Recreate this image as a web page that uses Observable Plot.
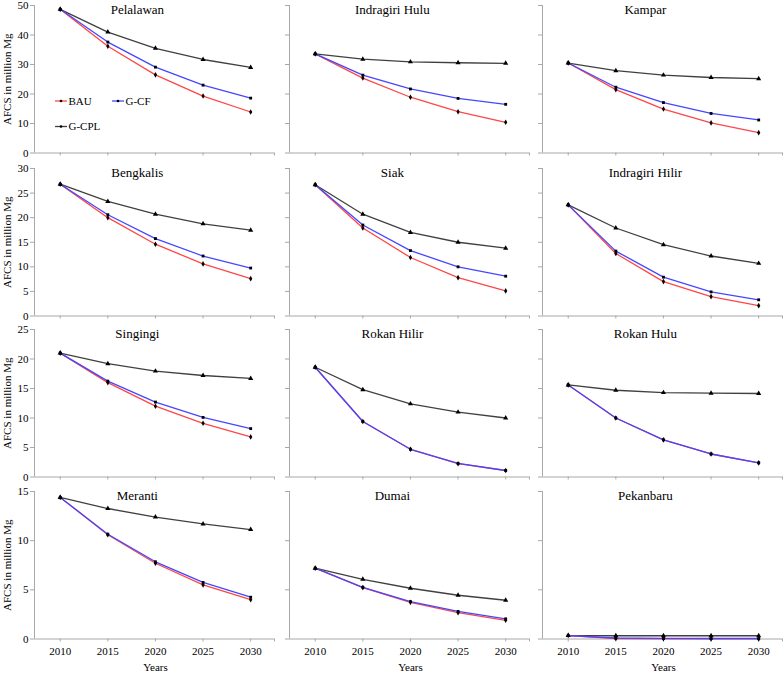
<!DOCTYPE html>
<html><head><meta charset="utf-8">
<script src="https://cdn.jsdelivr.net/npm/d3@7"></script>
<script src="https://cdn.jsdelivr.net/npm/@observablehq/plot@0.6"></script>
<style>
body{margin:0;background:#fff;}
#chart{position:relative;width:784px;height:673px;font-family:'Liberation Serif','Tinos','Times New Roman','DejaVu Serif',serif;overflow:hidden;}
#chart svg{position:absolute;overflow:visible;}
#chart svg text{font-family:'Liberation Serif','Tinos','Times New Roman','DejaVu Serif',serif !important;}
</style></head><body><div id="chart"></div>
<script>
const years = [2010, 2015, 2020, 2025, 2030];
const regions = ["Pelalawan", "Indragiri Hulu", "Kampar", "Bengkalis", "Siak", "Indragiri Hilir",
  "Singingi", "Rokan Hilir", "Rokan Hulu", "Meranti", "Dumai", "Pekanbaru"];
const scenarios = ["BAU", "G-CF", "G-CPL"];
const bauValues = [
  [48.7, 36.2, 26.5, 19.3, 13.9],
  [33.6, 25.4, 18.9, 14.0, 10.4],
  [30.5, 21.5, 14.9, 10.2, 6.9],
  [26.8, 20.0, 14.6, 10.6, 7.6],
  [26.7, 17.9, 11.9, 7.8, 5.1],
  [22.6, 12.7, 7.0, 3.95, 2.1],
  [21.0, 16.0, 12.0, 9.1, 6.8],
  [18.6, 9.4, 4.7, 2.25, 1.1],
  [15.6, 10.0, 6.3, 3.9, 2.4],
  [14.4, 10.6, 7.7, 5.5, 4.0],
  [7.2, 5.23, 3.73, 2.68, 1.9],
  [0.35, 0.05, 0.02, 0.01, 0.01]
];
const gcfValues = [
  [48.7, 37.6, 29.1, 23.0, 18.6],
  [33.6, 26.4, 21.7, 18.5, 16.5],
  [30.5, 22.3, 17.1, 13.4, 11.2],
  [26.8, 20.6, 15.75, 12.2, 9.75],
  [26.7, 18.5, 13.3, 10.0, 8.1],
  [22.6, 13.2, 7.9, 4.9, 3.3],
  [21.0, 16.25, 12.7, 10.1, 8.2],
  [18.6, 9.4, 4.7, 2.3, 1.1],
  [15.6, 10.0, 6.3, 3.9, 2.4],
  [14.4, 10.65, 7.85, 5.75, 4.25],
  [7.2, 5.26, 3.8, 2.8, 2.05],
  [0.35, 0.1, 0.06, 0.05, 0.05]
];
const gcplValues = [
  [48.7, 41.0, 35.5, 31.7, 29.0],
  [33.6, 31.8, 30.9, 30.6, 30.4],
  [30.5, 27.9, 26.4, 25.6, 25.2],
  [26.8, 23.3, 20.7, 18.75, 17.45],
  [26.7, 20.7, 17.0, 15.0, 13.8],
  [22.6, 17.9, 14.5, 12.2, 10.7],
  [21.0, 19.2, 17.95, 17.2, 16.7],
  [18.6, 14.8, 12.4, 11.0, 10.0],
  [15.6, 14.7, 14.3, 14.2, 14.15],
  [14.4, 13.27, 12.4, 11.7, 11.13],
  [7.2, 6.07, 5.16, 4.45, 3.94],
  [0.35, 0.33, 0.33, 0.33, 0.33]
];
const rowMax = [50, 30, 25, 15];
const rowTicks = [[0, 10, 20, 30, 40, 50], [0, 5, 10, 15, 20, 25, 30], [0, 5, 10, 15, 20, 25], [0, 5, 10, 15]];
const colors = ["#ff4646", "#4646ff", "#404040"];
const symbols = ["diamond", "square", "triangle"];

const font = "'Liberation Serif','Tinos','Times New Roman','DejaVu Serif',serif";
const axisColor = "#a8a8a8";
const chart = document.getElementById("chart");

const colLeft = [0, 284, 538];
const colWidth = [284, 254, 246];
const colMarginLeft = [34, 5, 4];
const rowTop = [0, 163.3, 324, 485.7];
const plotH = 147.5;
const mTop = 5;

regions.forEach((name, i) => {
  const r = Math.floor(i / 3), c = i % 3;
  const mBottom = r === 3 ? 35 : 8;
  const series = [bauValues[i], gcfValues[i], gcplValues[i]];
  const rows = s => years.map((yr, k) => ({year: yr, value: series[s][k]}));
  const marks = [
    Plot.ruleY([0], {stroke: axisColor}),
    Plot.ruleX([2007.3], {stroke: axisColor}),
    Plot.axisY({ticks: rowTicks[r], tickSize: 4, tickPadding: 2, stroke: axisColor, fill: "black",
      tickFormat: c === 0 ? (d => String(d)) : (() => ""), label: null, fontSize: 11}),
    Plot.axisX({ticks: [...years, 2032.5], tickSize: 3, tickPadding: 5, stroke: axisColor, fill: "black",
      tickFormat: r === 3 ? (d => (years.includes(d) ? String(d) : "")) : (() => ""), label: null, fontSize: 11}),
    Plot.line(rows(2), {x: "year", y: "value", stroke: colors[2], strokeWidth: 1.3}),
    Plot.line(rows(0), {x: "year", y: "value", stroke: colors[0], strokeWidth: 1.3}),
    Plot.line(rows(1), {x: "year", y: "value", stroke: colors[1], strokeWidth: 1.3}),
    Plot.dot(rows(2), {x: "year", y: "value", symbol: symbols[2], r: 1.9, fill: "black"}),
    Plot.dot(rows(0), {x: "year", y: "value", symbol: symbols[0], r: 1.7, fill: "black"}),
    Plot.dot(rows(1), {x: "year", y: "value", symbol: symbols[1], r: 1.6, fill: "black"}),
    Plot.text([{t: name, x: 2018.1}], {x: "x", text: "t", frameAnchor: "top", dy: 4, lineAnchor: "middle",
      fontSize: 13, fill: "black"})
  ];
  if (r === 3) {
    marks.push(Plot.text([{t: "Years", x: 2020}], {x: "x", text: "t", frameAnchor: "bottom", dy: 28.7,
      lineAnchor: "middle", fontSize: 11, fill: "black"}));
  }
  if (c === 0) {
    marks.push(Plot.text(["AFCS in million Mg"], {text: d => d, frameAnchor: "left", dx: -27, rotate: -90,
      lineAnchor: "middle", textAnchor: "middle", fontSize: 11, fill: "black"}));
  }
  const svg = Plot.plot({
    width: colWidth[c],
    height: mTop + plotH + mBottom,
    marginLeft: colMarginLeft[c],
    marginRight: colWidth[c] - colMarginLeft[c] - 240,
    marginTop: mTop,
    marginBottom: mBottom,
    x: {domain: [2007.3, 2032.5], axis: null},
    y: {domain: [0, rowMax[r]], axis: null},
    style: {fontFamily: font, fontSize: "11px", background: "transparent", color: "black", overflow: "visible"},
    marks
  });
  svg.setAttribute("font-family", font);
  svg.style.left = colLeft[c] + "px";
  svg.style.top = rowTop[r] + "px";
  chart.appendChild(svg);
});

// Legend (inside the Pelalawan panel)
const legendItems = [
  {label: scenarios[0], x: 55, y: 101, color: colors[0]},
  {label: scenarios[1], x: 112, y: 101, color: colors[1]},
  {label: scenarios[2], x: 55, y: 126.5, color: colors[2]}
];
const lg = d3.select(chart).append("svg")
  .attr("width", 200).attr("height", 140)
  .style("left", "0px").style("top", "0px");
legendItems.forEach(d => {
  lg.append("line").attr("x1", d.x).attr("x2", d.x + 12).attr("y1", d.y).attr("y2", d.y)
    .attr("stroke", d.color).attr("stroke-width", 1.3);
  lg.append("circle").attr("cx", d.x + 6).attr("cy", d.y).attr("r", 1.3).attr("fill", "black");
  lg.append("text").attr("x", d.x + 13.5).attr("y", d.y).attr("dy", "0.35em")
    .attr("font-size", 11).attr("fill", "black").text(d.label);
});
</script>
</body></html>
